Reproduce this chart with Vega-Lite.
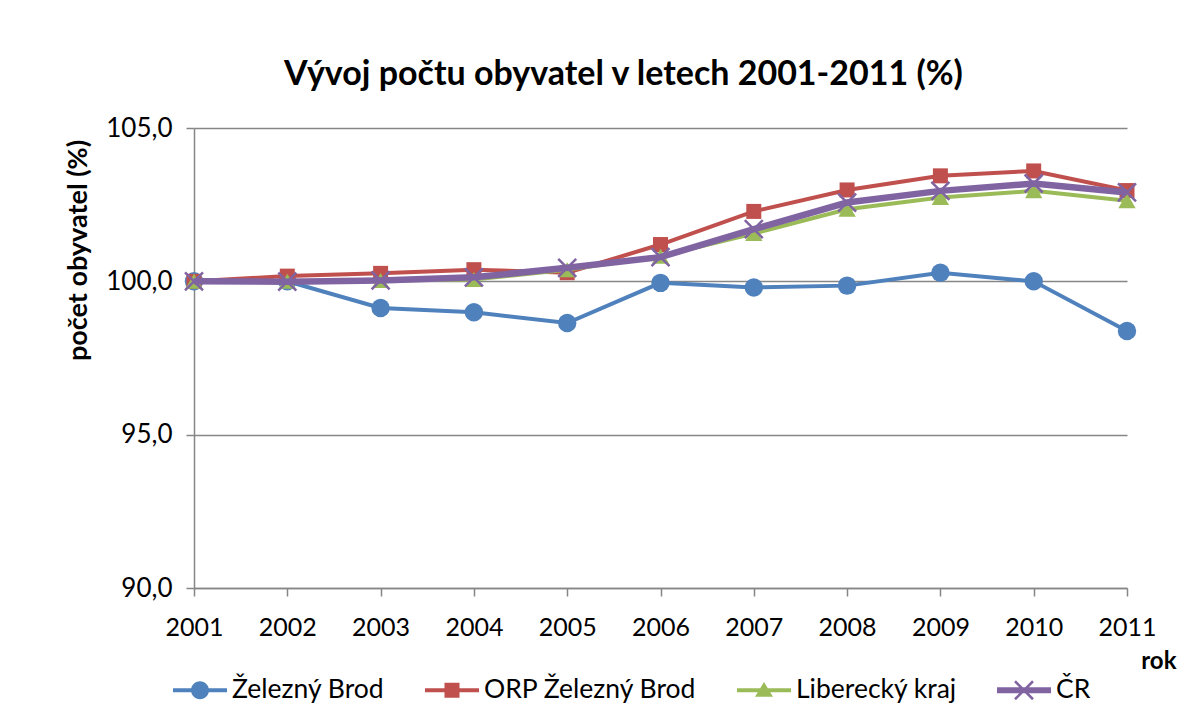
{
  "$schema": "https://vega.github.io/schema/vega-lite/v6.json",
  "width": 933,
  "height": 460,
  "autosize": {"type": "none"},
  "padding": {"left": 194, "top": 128, "right": 57, "bottom": 136},
  "background": "white",
  "config": {
    "locale": {"number": {"decimal": ",", "thousands": " ", "grouping": [3], "currency": ["", " Kč"]}},
    "view": {"stroke": null},
    "font": "Lato",
    "axis": {
      "labelFont": "Lato", "labelColor": "#000000",
      "domainColor": "#868686", "domainWidth": 1.5,
      "tickColor": "#868686", "tickWidth": 1.5, "tickSize": 8,
      "gridColor": "#868686", "gridWidth": 1.5,
      "titleFont": "Lato", "titleFontWeight": "bold", "titleColor": "#000000"
    }
  },
  "title": {
    "text": "Vývoj počtu obyvatel v letech 2001-2011 (%)",
    "font": "Lato", "fontSize": 34, "fontWeight": "bold", "color": "#000000",
    "anchor": "middle", "dx": -37, "offset": 23
  },
  "data": {"values": [
    {"rok": 2001, "rada": "Železný Brod", "hodnota": 100.0},
    {"rok": 2002, "rada": "Železný Brod", "hodnota": 100.0},
    {"rok": 2003, "rada": "Železný Brod", "hodnota": 99.13},
    {"rok": 2004, "rada": "Železný Brod", "hodnota": 98.99},
    {"rok": 2005, "rada": "Železný Brod", "hodnota": 98.64},
    {"rok": 2006, "rada": "Železný Brod", "hodnota": 99.95},
    {"rok": 2007, "rada": "Železný Brod", "hodnota": 99.80},
    {"rok": 2008, "rada": "Železný Brod", "hodnota": 99.86},
    {"rok": 2009, "rada": "Železný Brod", "hodnota": 100.28},
    {"rok": 2010, "rada": "Železný Brod", "hodnota": 100.0},
    {"rok": 2011, "rada": "Železný Brod", "hodnota": 98.38},
    {"rok": 2001, "rada": "ORP Železný Brod", "hodnota": 100.0},
    {"rok": 2002, "rada": "ORP Železný Brod", "hodnota": 100.17},
    {"rok": 2003, "rada": "ORP Železný Brod", "hodnota": 100.26},
    {"rok": 2004, "rada": "ORP Železný Brod", "hodnota": 100.38},
    {"rok": 2005, "rada": "ORP Železný Brod", "hodnota": 100.28},
    {"rok": 2006, "rada": "ORP Železný Brod", "hodnota": 101.2},
    {"rok": 2007, "rada": "ORP Železný Brod", "hodnota": 102.28},
    {"rok": 2008, "rada": "ORP Železný Brod", "hodnota": 102.98},
    {"rok": 2009, "rada": "ORP Železný Brod", "hodnota": 103.44},
    {"rok": 2010, "rada": "ORP Železný Brod", "hodnota": 103.6},
    {"rok": 2011, "rada": "ORP Železný Brod", "hodnota": 102.96},
    {"rok": 2001, "rada": "Liberecký kraj", "hodnota": 100.0},
    {"rok": 2002, "rada": "Liberecký kraj", "hodnota": 100.0},
    {"rok": 2003, "rada": "Liberecký kraj", "hodnota": 100.03},
    {"rok": 2004, "rada": "Liberecký kraj", "hodnota": 100.06},
    {"rok": 2005, "rada": "Liberecký kraj", "hodnota": 100.38},
    {"rok": 2006, "rada": "Liberecký kraj", "hodnota": 100.82},
    {"rok": 2007, "rada": "Liberecký kraj", "hodnota": 101.56},
    {"rok": 2008, "rada": "Liberecký kraj", "hodnota": 102.35},
    {"rok": 2009, "rada": "Liberecký kraj", "hodnota": 102.73},
    {"rok": 2010, "rada": "Liberecký kraj", "hodnota": 102.95},
    {"rok": 2011, "rada": "Liberecký kraj", "hodnota": 102.63},
    {"rok": 2001, "rada": "ČR", "hodnota": 100.0},
    {"rok": 2002, "rada": "ČR", "hodnota": 99.99},
    {"rok": 2003, "rada": "ČR", "hodnota": 100.03},
    {"rok": 2004, "rada": "ČR", "hodnota": 100.13},
    {"rok": 2005, "rada": "ČR", "hodnota": 100.44},
    {"rok": 2006, "rada": "ČR", "hodnota": 100.79},
    {"rok": 2007, "rada": "ČR", "hodnota": 101.7},
    {"rok": 2008, "rada": "ČR", "hodnota": 102.57},
    {"rok": 2009, "rada": "ČR", "hodnota": 102.95},
    {"rok": 2010, "rada": "ČR", "hodnota": 103.19},
    {"rok": 2011, "rada": "ČR", "hodnota": 102.9}
  ]},
  "encoding": {
    "x": {
      "field": "rok", "type": "ordinal",
      "scale": {"padding": 0},
      "axis": {
        "title": "rok", "labelAngle": 0, "labelPadding": 19, "labelFontSize": 25, "grid": false,
        "titleFontSize": 24,
        "titleAnchor": "end", "titleAlign": "right", "titleX": 982, "titleY": 80, "titleBaseline": "alphabetic"
      }
    },
    "y": {
      "field": "hodnota", "type": "quantitative",
      "scale": {"domain": [90, 105], "nice": false, "zero": false},
      "axis": {
        "title": "počet obyvatel (%)", "values": [90, 95, 100, 105], "format": ".1f",
        "labelPadding": 14, "labelFontSize": 26, "grid": true,
        "titleFontSize": 27,
        "titleAngle": -90, "titleAlign": "center", "titleBaseline": "middle",
        "titleX": -116, "titleY": 122
      }
    }
  },
  "layer": [
    {
      "transform": [{"filter": "datum.rada === 'Železný Brod'"}],
      "mark": {"type": "line", "color": "#4F81BD", "strokeWidth": 4}
    },
    {
      "transform": [{"filter": "datum.rada === 'Železný Brod'"}],
      "mark": {"type": "point", "shape": "circle", "filled": true, "opacity": 1, "color": "#4F81BD", "size": 340}
    },
    {
      "transform": [{"filter": "datum.rada === 'ORP Železný Brod'"}],
      "mark": {"type": "line", "color": "#C0504D", "strokeWidth": 4}
    },
    {
      "transform": [{"filter": "datum.rada === 'ORP Železný Brod'"}],
      "mark": {"type": "point", "shape": "square", "filled": true, "opacity": 1, "color": "#C0504D", "size": 225}
    },
    {
      "transform": [{"filter": "datum.rada === 'Liberecký kraj'"}],
      "mark": {"type": "line", "color": "#9BBB59", "strokeWidth": 4}
    },
    {
      "transform": [{"filter": "datum.rada === 'Liberecký kraj'"}],
      "mark": {"type": "point", "shape": "triangle-up", "filled": true, "opacity": 1, "color": "#9BBB59", "size": 300}
    },
    {
      "transform": [{"filter": "datum.rada === 'ČR'"}],
      "mark": {"type": "line", "color": "#8064A2", "strokeWidth": 6.5}
    },
    {
      "transform": [{"filter": "datum.rada === 'ČR'"}],
      "mark": {"type": "point", "shape": "M-1,-1L1,1M-1,1L1,-1", "filled": false, "opacity": 1, "color": "#8064A2", "strokeWidth": 2.5, "size": 324}
    },
    {
      "mark": {"type": "point", "filled": true, "opacity": 0, "size": 2916},
      "encoding": {
        "fill": {
          "field": "rada", "type": "nominal", "title": null,
          "scale": {
            "domain": ["Železný Brod", "ORP Železný Brod", "Liberecký kraj", "ČR"],
            "range": ["#4F81BD", "#C0504D", "#9BBB59", "#8064A2"]
          },
          "legend": {
            "orient": "none", "direction": "horizontal", "legendX": -21, "legendY": 535,
            "symbolSize": 2916, "symbolOpacity": 1, "symbolStrokeWidth": 0,
            "labelFont": "Lato", "labelFontSize": 26.5, "labelColor": "#000000", "labelLimit": 500,
            "labelOffset": 5, "columnPadding": 40, "padding": 0
          }
        },
        "shape": {
          "field": "rada", "type": "nominal", "title": null,
          "scale": {
            "domain": ["Železný Brod", "ORP Železný Brod", "Liberecký kraj", "ČR"],
            "range": [
              "M-1,-0.074H1V0.074H-1Z M-0.333,0A0.333,0.333,0,1,1,0.333,0A0.333,0.333,0,1,1,-0.333,0Z",
              "M-1,-0.074H1V0.074H-1Z M-0.278,-0.278H0.278V0.278H-0.278Z",
              "M-1,-0.074H1V0.074H-1Z M0,-0.31L0.333,0.245H-0.333Z",
              "M-1,-0.111H1V0.111H-1Z M-0.3,-0.366L0.366,0.3L0.3,0.366L-0.366,-0.3Z M-0.3,0.366L-0.366,0.3L0.3,-0.366L0.366,-0.3Z"
            ]
          },
          "legend": {
            "orient": "none", "direction": "horizontal", "legendX": -21, "legendY": 535,
            "symbolSize": 2916, "symbolOpacity": 1, "symbolStrokeWidth": 0,
            "labelFont": "Lato", "labelFontSize": 26.5, "labelColor": "#000000", "labelLimit": 500,
            "labelOffset": 5, "columnPadding": 40, "padding": 0
          }
        }
      }
    }
  ]
}
